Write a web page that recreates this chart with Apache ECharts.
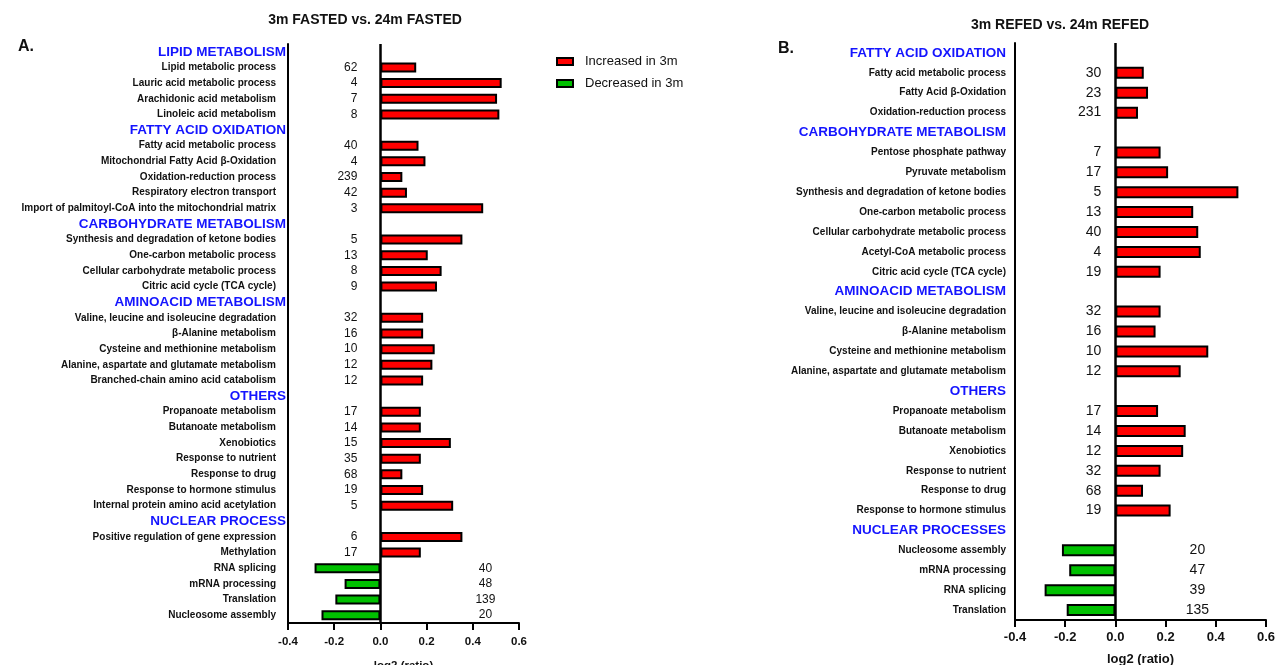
<!DOCTYPE html>
<html>
<head>
<meta charset="utf-8">
<title>3m vs 24m</title>
<script src="https://cdn.jsdelivr.net/npm/echarts@6/dist/echarts.min.js"></script>
<style>
  html, body { margin: 0; padding: 0; background: #fff; }
  #chart { width: 1277px; height: 665px; }
</style>
</head>
<body>
<div id="chart"></div>
<script>
// panel A: 3m FASTED vs. 24m FASTED (null value = section header)
const catsA = [
  'LIPID METABOLISM',
  'Lipid metabolic process',
  'Lauric acid metabolic process',
  'Arachidonic acid metabolism',
  'Linoleic acid metabolism',
  'FATTY ACID OXIDATION',
  'Fatty acid metabolic process',
  'Mitochondrial Fatty Acid β-Oxidation',
  'Oxidation-reduction process',
  'Respiratory electron transport',
  'Import of palmitoyl-CoA into the mitochondrial matrix',
  'CARBOHYDRATE METABOLISM',
  'Synthesis and degradation of ketone bodies',
  'One-carbon metabolic process',
  'Cellular carbohydrate metabolic process',
  'Citric acid cycle (TCA cycle)',
  'AMINOACID METABOLISM',
  'Valine, leucine and isoleucine degradation',
  'β-Alanine metabolism',
  'Cysteine and methionine metabolism',
  'Alanine, aspartate and glutamate metabolism',
  'Branched-chain amino acid catabolism',
  'OTHERS',
  'Propanoate metabolism',
  'Butanoate metabolism',
  'Xenobiotics',
  'Response to nutrient',
  'Response to drug',
  'Response to hormone stimulus',
  'Internal protein amino acid acetylation',
  'NUCLEAR PROCESS',
  'Positive regulation of gene expression',
  'Methylation',
  'RNA splicing',
  'mRNA processing',
  'Translation',
  'Nucleosome assembly'
];
const valsA = [null, 0.155, 0.525, 0.505, 0.515, null, 0.165, 0.195, 0.095, 0.115, 0.445,
  null, 0.355, 0.205, 0.265, 0.245, null, 0.185, 0.185, 0.235, 0.225, 0.185,
  null, 0.175, 0.175, 0.305, 0.175, 0.095, 0.185, 0.315, null, 0.355, 0.175,
  -0.285, -0.155, -0.195, -0.255];
const countsA = [null, 62, 4, 7, 8, null, 40, 4, 239, 42, 3, null, 5, 13, 8, 9,
  null, 32, 16, 10, 12, 12, null, 17, 14, 15, 35, 68, 19, 5, null, 6, 17,
  40, 48, 139, 20];

// panel B: 3m REFED vs. 24m REFED
const catsB = [
  'FATTY ACID OXIDATION',
  'Fatty acid metabolic process',
  'Fatty Acid β-Oxidation',
  'Oxidation-reduction process',
  'CARBOHYDRATE METABOLISM',
  'Pentose phosphate pathway',
  'Pyruvate metabolism',
  'Synthesis and degradation of ketone bodies',
  'One-carbon metabolic process',
  'Cellular carbohydrate metabolic process',
  'Acetyl-CoA metabolic process',
  'Citric acid cycle (TCA cycle)',
  'AMINOACID METABOLISM',
  'Valine, leucine and isoleucine degradation',
  'β-Alanine metabolism',
  'Cysteine and methionine metabolism',
  'Alanine, aspartate and glutamate metabolism',
  'OTHERS',
  'Propanoate metabolism',
  'Butanoate metabolism',
  'Xenobiotics',
  'Response to nutrient',
  'Response to drug',
  'Response to hormone stimulus',
  'NUCLEAR PROCESSES',
  'Nucleosome assembly',
  'mRNA processing',
  'RNA splicing',
  'Translation'
];
const valsB = [null, 0.113, 0.13, 0.09, null, 0.18, 0.21, 0.49, 0.31, 0.33, 0.34, 0.18,
  null, 0.18, 0.16, 0.37, 0.26, null, 0.17, 0.28, 0.27, 0.18, 0.11, 0.22,
  null, -0.213, -0.184, -0.282, -0.194];
const countsB = [null, 30, 23, 231, null, 7, 17, 5, 13, 40, 4, 19, null, 32, 16, 10, 12,
  null, 17, 14, 12, 32, 68, 19, null, 20, 47, 39, 135];

const xTicks = [-0.4, -0.2, 0.0, 0.2, 0.4, 0.6];

const FONT = 'Liberation Sans, Arial, sans-serif';
const RED = '#ff0000';
const GREEN = '#00c000';

function up(vals) { return vals.map(v => (v != null && v > 0) ? v : '-'); }
function down(vals) { return vals.map(v => (v != null && v < 0) ? v : '-'); }

function yAxisFor(idx, cats, vals, pad, margin) {
  const heads = new Set(cats.filter((c, i) => vals[i] == null));
  return {
    type: 'category',
    gridIndex: idx,
    inverse: true,
    data: cats,
    axisLine: { onZero: false, lineStyle: { color: '#000', width: 2 } },
    axisTick: { alignWithLabel: true, length: 7, lineStyle: { color: '#000', width: 2 } },
    axisLabel: {
      interval: 0,
      margin: margin,
      fontFamily: FONT,
      formatter: v => heads.has(v) ? '{h|' + v + '}' : '{n|' + v + '}',
      rich: {
        h: { fontSize: 13.5, fontWeight: 'bold', color: '#1414ff', fontFamily: FONT },
        n: { fontSize: 10, fontWeight: 'bold', color: '#111', fontFamily: FONT, padding: [0, pad, 0, 0] }
      }
    }
  };
}

function xAxisFor(idx, fs, margin, gap) {
  return {
    type: 'value',
    gridIndex: idx,
    min: xTicks[0],
    max: xTicks[xTicks.length - 1],
    interval: 0.2,
    splitLine: { show: false },
    axisLine: { show: true, lineStyle: { color: '#000', width: 2 } },
    axisTick: { show: true, length: 7, lineStyle: { color: '#000', width: 2 } },
    axisLabel: {
      margin: margin, fontSize: fs, fontWeight: 'bold', color: '#111', fontFamily: FONT,
      formatter: v => v.toFixed(1)
    },
    name: 'log2 (ratio)',
    nameLocation: 'middle',
    nameGap: gap,
    nameTextStyle: { fontSize: fs, fontWeight: 'bold', color: '#111', fontFamily: FONT }
  };
}

function barSeries(name, idx, data, counts, color, labelPos, dist, fs, bw, withZero) {
  const s = {
    name: name,
    type: 'bar',
    xAxisIndex: idx,
    yAxisIndex: idx,
    stack: 'p' + idx,
    barWidth: bw,
    data: data,
    itemStyle: { color: color, borderColor: '#000', borderWidth: 2 },
    label: {
      show: true,
      position: labelPos,
      distance: dist,
      align: labelPos === 'left' ? 'right' : 'center',
      fontSize: fs,
      color: '#111',
      fontFamily: FONT,
      formatter: p => counts[p.dataIndex]
    },
    emphasis: { disabled: true }
  };
  if (withZero) {
    s.markLine = {
      silent: true,
      symbol: 'none',
      label: { show: false },
      lineStyle: { color: '#000', width: 2.5, type: 'solid' },
      data: [{ xAxis: 0 }]
    };
  }
  return s;
}

const chart = echarts.init(document.getElementById('chart'), null, { renderer: 'canvas' });

chart.setOption({
  backgroundColor: '#fff',
  animation: false,
  title: [
    { text: '3m FASTED vs. 24m FASTED', left: 360, top: 8, textAlign: 'center',
      textStyle: { fontSize: 14, fontWeight: 'bold', color: '#111', fontFamily: FONT } },
    { text: 'A.', left: 13, top: 34,
      textStyle: { fontSize: 16, fontWeight: 'bold', color: '#111', fontFamily: FONT } },
    { text: '3m REFED vs. 24m REFED', left: 1055, top: 13, textAlign: 'center',
      textStyle: { fontSize: 14, fontWeight: 'bold', color: '#111', fontFamily: FONT } },
    { text: 'B.', left: 773, top: 36,
      textStyle: { fontSize: 16, fontWeight: 'bold', color: '#111', fontFamily: FONT } }
  ],
  legend: {
    data: ['Increased in 3m', 'Decreased in 3m'],
    orient: 'vertical',
    icon: 'rect',
    left: 551,
    top: 50,
    itemWidth: 16,
    itemHeight: 7,
    itemGap: 9,
    textStyle: { fontSize: 13, color: '#111', fontFamily: FONT, padding: [0, 0, 0, 7] }
  },
  grid: [
    { left: 288, width: 231, top: 44, height: 579, outerBoundsMode: 'none' },
    { left: 1015, width: 251, top: 43, height: 577, outerBoundsMode: 'none' }
  ],
  xAxis: [xAxisFor(0, 11.5, 13, 37), xAxisFor(1, 13, 11, 33)],
  yAxis: [yAxisFor(0, catsA, valsA, 10, 2), yAxisFor(1, catsB, valsB, 0, 9)],
  series: [
    barSeries('Increased in 3m', 0, up(valsA), countsA, RED, 'left', 23, 12, 10, true),
    barSeries('Decreased in 3m', 0, down(valsA), countsA, GREEN, 'right', 105, 12, 10, false),
    barSeries('Increased in 3m', 1, up(valsB), countsB, RED, 'left', 14, 14, 12, true),
    barSeries('Decreased in 3m', 1, down(valsB), countsB, GREEN, 'right', 82, 14, 12, false)
  ]
});
</script>
</body>
</html>
